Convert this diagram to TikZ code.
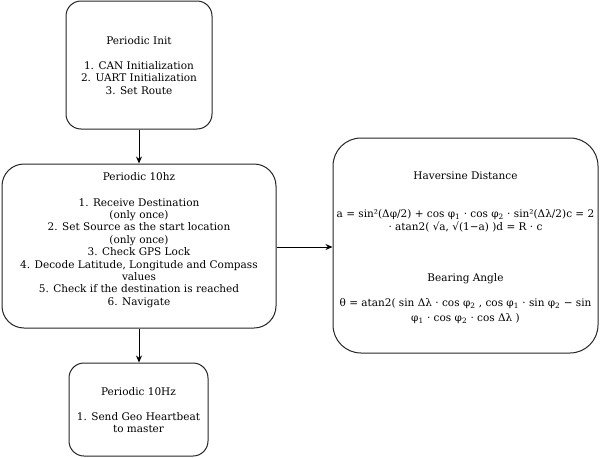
\documentclass[tikz,border=0pt]{standalone}
\usepackage{fontspec}
\setmainfont{DejaVu Serif}
\usetikzlibrary{arrows.meta}
\begin{document}
\begin{tikzpicture}[x=1pt,y=-1pt,
  box/.style={draw=black!85, line width=1pt, rounded corners=#1, inner sep=0pt, fill=white},
  txt/.style={anchor=north, inner sep=0pt, align=center, font=\fontsize{10.5}{12.4}\selectfont},
  arr/.style={draw=black, line width=1pt, -{Stealth[length=7pt,width=6pt]}}]
\useasboundingbox (0,0) rectangle (600,458);
\node[box=15, minimum width=146, minimum height=128] (init) at (139,65) {};
\node[box=22, minimum width=274, minimum height=164] (p10) at (139,246) {};
\node[box=28, minimum width=265, minimum height=215] (hav) at (465.5,245.5) {};
\node[box=15, minimum width=139, minimum height=93] (geo) at (138.5,409.5) {};

\node[txt] (initt) at (139,36.5) {Periodic Init\\[12.4pt]1. CAN Initialization\\2. UART Initialization\\3. Set Route};
\node[txt] (p10t) at (139,172.5) {Periodic 10hz\\[13pt]1. Receive Destination\\(only once)\\2. Set Source as the start location\\(only once)\\3. Check GPS Lock\\4. Decode Latitude, Longitude and Compass\\values\\5. Check if the destination is reached\\6. Navigate};
\node[txt] (havt) at (465.5,172) {Haversine Distance\\[25.5pt]a = sin²(Δφ/2) + cos φ\textsubscript{1} · cos φ\textsubscript{2} · sin²(Δλ/2)c = 2\\· atan2( √a, √(1−a) )d = R · c\\[39pt]Bearing Angle\\[12.6pt]θ = atan2( sin Δλ · cos φ\textsubscript{2} , cos φ\textsubscript{1} · sin φ\textsubscript{2} − sin\\[2.6pt]φ\textsubscript{1} · cos φ\textsubscript{2} · cos Δλ )};
\node[txt] (geot) at (138.5,387) {Periodic 10Hz\\[13pt]1. Send Geo Heartbeat\\to master};

\draw[arr] (init.south) -- (p10.north);
\draw[arr] (p10.south) -- (p10.south |- geo.north);
\draw[arr] (p10.east |- 0,247) -- (hav.west |- 0,247);
\end{tikzpicture}
\end{document}
